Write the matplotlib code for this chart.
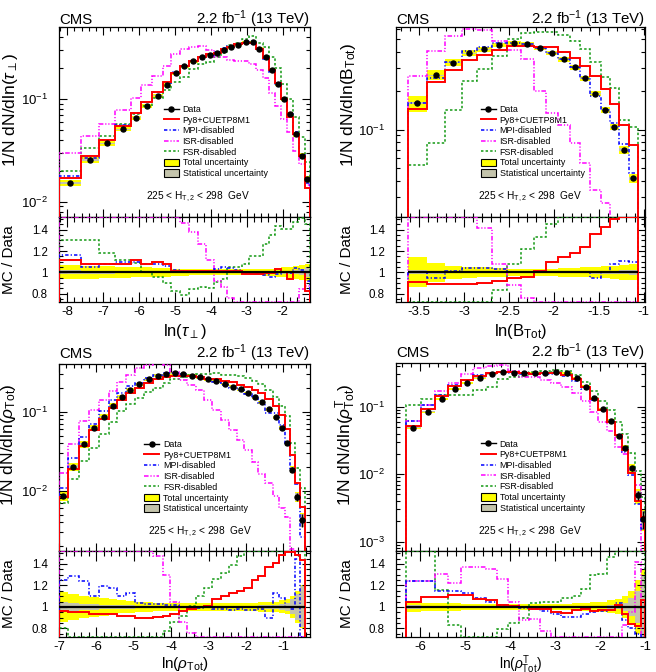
import numpy as np
import matplotlib
matplotlib.use('Agg')
import matplotlib.pyplot as plt
from matplotlib.ticker import MultipleLocator, LogLocator, NullFormatter, FuncFormatter
from matplotlib.lines import Line2D
from matplotlib.patches import Patch

plt.rcParams['font.family'] = ['Liberation Sans', 'DejaVu Sans']
plt.rcParams['mathtext.fontset'] = 'custom'
plt.rcParams['mathtext.rm'] = 'Liberation Sans'
plt.rcParams['mathtext.it'] = 'Liberation Sans:italic'
plt.rcParams['mathtext.bf'] = 'Liberation Sans:bold'
plt.rcParams['axes.unicode_minus'] = False

# ---------------- data: ln(tau_perp) ----------------
tau_edges = [-8.23, -7.61, -7.12, -6.68, -6.23, -5.94, -5.63, -5.33, -5.10, -4.87, -4.61,
             -4.37, -4.15, -3.92, -3.73, -3.54, -3.35, -3.14, -2.93, -2.74, -2.56, -2.37,
             -2.22, -2.05, -1.87, -1.70, -1.54, -1.38, -1.24]
tau_data = [0.0153, 0.0255, 0.037, 0.0507, 0.0657, 0.0855, 0.107, 0.136, 0.178, 0.207, 0.231,
            0.255, 0.268, 0.279, 0.300, 0.316, 0.336, 0.354, 0.354, 0.307, 0.253, 0.191, 0.139,
            0.099, 0.0714, 0.0453, 0.028, 0.0166]
tau_tot = [0.065, 0.06, 0.055, 0.05, 0.045, 0.045, 0.04, 0.04, 0.035, 0.035, 0.03, 0.03, 0.03,
           0.03, 0.03, 0.03, 0.03, 0.03, 0.03, 0.03, 0.035, 0.035, 0.04, 0.045, 0.05, 0.06, 0.07, 0.08]
tau_stat = [0.02, 0.015, 0.012, 0.01, 0.01, 0.008, 0.008, 0.007, 0.007, 0.006, 0.006, 0.006, 0.006,
            0.006, 0.006, 0.006, 0.006, 0.006, 0.006, 0.007, 0.008, 0.009, 0.01, 0.012, 0.015, 0.02,
            0.03, 0.045]
tau_r_py8 = [1.12, 1.08, 1.08, 1.08, 1.12, 1.08, 1.10, 1.08, 1.01, 1.01, 1.01, 1.01, 1.01, 1.01,
             1.01, 1.01, 1.01, 0.985, 0.985, 0.985, 0.99, 0.99, 1.03, 1.0, 0.94, 1.0, 1.0, 0.82]
tau_r_mpi = [1.16, 1.05, 1.08, 1.10, 1.10, 1.08, 1.08, 1.06, 1.02, 1.01, 1.0, 1.0, 1.0, 1.03, 1.05,
             1.04, 1.02, 0.99, 1.0, 0.99, 0.97, 0.96, 0.98, 1.0, 0.99, 1.04, 1.02, 0.92]
tau_r_isr = [1.93, 1.69, 1.55, 1.55, 1.55, 1.58, 1.55, 1.55, 1.52, 1.46, 1.38, 1.27, 1.12, 0.92,
             0.86, 0.76, 0.70, 0.66, 0.62, 0.62, 0.63, 0.60, 0.62, 0.65, 0.66, 0.68, 0.84, 0.87]
tau_r_fsr = [1.30, 1.30, 1.18, 1.115, 1.09, 1.0, 0.96, 0.90, 0.82, 0.79, 0.84, 0.86, 0.85, 0.91,
             0.94, 1.05, 1.05, 1.08, 1.15, 1.15, 1.27, 1.35, 1.44, 1.41, 1.41, 1.47, 1.51, 1.45]

# ---------------- data: ln(B_Tot) ----------------
btot_edges = [-3.62, -3.415, -3.21, -3.025, -2.86, -2.69, -2.525, -2.37, -2.22, -2.09, -1.95,
              -1.82, -1.705, -1.595, -1.48, -1.38, -1.275, -1.165, -1.065]
btot_data = [0.160, 0.264, 0.330, 0.391, 0.420, 0.452, 0.468, 0.460, 0.432, 0.395, 0.351, 0.303,
             0.250, 0.190, 0.143, 0.105, 0.070, 0.042]
btot_tot = [0.14, 0.09, 0.06, 0.05, 0.045, 0.04, 0.035, 0.035, 0.035, 0.035, 0.04, 0.04, 0.045,
            0.05, 0.055, 0.06, 0.07, 0.075]
btot_stat = [0.02, 0.012, 0.01, 0.008, 0.007, 0.006, 0.006, 0.006, 0.006, 0.006, 0.007, 0.008,
             0.01, 0.012, 0.014, 0.016, 0.02, 0.025]
btot_r_py8 = [0.907, 0.885, 0.885, 0.89, 0.90, 0.92, 0.945, 0.96, 1.01, 1.10, 1.14, 1.18, 1.24,
              1.36, 1.43, 1.50, 1.55, 1.82]
btot_r_mpi = [1.0, 0.95, 1.01, 1.04, 1.04, 1.03, 1.0, 1.0, 1.0, 1.0, 1.0, 1.0, 1.0, 0.95, 1.0,
              1.08, 1.11, 1.10]
btot_r_isr = [1.63, 1.55, 1.60, 1.54, 1.42, 1.08, 0.88, 0.76, 0.46, 0.34, 0.31, 0.26, 0.22, 0.18,
              0.19, 0.14, 0.10, 0.08]
btot_r_fsr = [0.33, 0.30, 0.43, 0.61, 0.70, 0.83, 1.08, 1.22, 1.33, 1.45, 1.55, 1.60, 1.70, 1.75,
              1.80, 2.0, 1.7, 2.5]

# ---------------- data: ln(rho_Tot) ----------------
rho_edges = [-7.0, -6.76, -6.47, -6.205, -5.94, -5.67, -5.44, -5.215, -4.975, -4.725, -4.48,
             -4.23, -4.02, -3.785, -3.57, -3.34, -3.125, -2.895, -2.68, -2.445, -2.24, -2.045,
             -1.85, -1.67, -1.48, -1.285, -1.105, -0.955, -0.83, -0.695, -0.555, -0.42]
rho_data = [0.0087, 0.0201, 0.0386, 0.063, 0.0865, 0.119, 0.155, 0.188, 0.222, 0.257, 0.285,
            0.300, 0.305, 0.297, 0.285, 0.272, 0.257, 0.242, 0.224, 0.208, 0.192, 0.172, 0.152,
            0.132, 0.107, 0.085, 0.062, 0.040, 0.0185, 0.0084, 0.0043]
rho_tot = [0.14, 0.12, 0.10, 0.09, 0.08, 0.07, 0.06, 0.055, 0.05, 0.045, 0.04, 0.04, 0.04, 0.04,
           0.04, 0.04, 0.04, 0.04, 0.04, 0.04, 0.04, 0.04, 0.04, 0.045, 0.045, 0.05, 0.06, 0.07,
           0.10, 0.15, 0.20]
rho_stat = [0.05, 0.04, 0.03, 0.025, 0.02, 0.02, 0.015, 0.015, 0.012, 0.01, 0.01, 0.01, 0.01,
            0.01, 0.01, 0.01, 0.01, 0.01, 0.01, 0.01, 0.01, 0.012, 0.012, 0.014, 0.015, 0.02,
            0.025, 0.04, 0.07, 0.12, 0.19]
rho_r_py8 = [0.96, 0.95, 0.95, 0.93, 0.93, 0.93, 0.92, 0.92, 0.90, 0.90, 0.91, 0.92, 0.93, 0.96,
             0.98, 1.0, 1.01, 1.07, 1.10, 1.13, 1.15, 1.18, 1.25, 1.29, 1.37, 1.41, 1.48, 1.51,
             1.51, 1.48, 1.44]
rho_r_mpi = [1.25, 1.29, 1.24, 1.10, 1.19, 1.18, 1.10, 1.13, 1.04, 1.03, 1.03, 1.02, 1.02, 1.0,
             0.99, 0.99, 1.0, 0.98, 0.98, 0.97, 0.98, 0.97, 0.97, 0.98, 0.90, 1.13, 1.08, 1.0,
             0.98, 1.45, 0.60]
rho_r_isr = [1.90, 1.97, 2.0, 1.67, 1.62, 1.55, 1.55, 1.55, 1.62, 1.52, 1.47, 1.30, 1.05, 0.86,
             0.76, 0.70, 0.55, 0.43, 0.35, 0.28, 0.23, 0.19, 0.15, 0.125, 0.116, 0.10, 0.097,
             0.117, 0.10, 0.10, 0.10]
rho_r_fsr = [0.80, 0.70, 0.62, 0.55, 0.60, 0.62, 0.65, 0.66, 0.68, 0.70, 0.71, 0.78, 0.86, 0.92,
             1.01, 1.10, 1.18, 1.26, 1.32, 1.39, 1.47, 1.55, 1.60, 1.70, 1.75, 1.80, 1.90, 2.2,
             2.2, 2.3, 2.5]

# ---------------- data: ln(rho^T_Tot) ----------------
rhot_edges = [-6.317, -5.991, -5.672, -5.375, -5.101, -4.819, -4.544, -4.285, -4.040, -3.810,
              -3.573, -3.335, -3.098, -2.860, -2.631, -2.415, -2.215, -2.037, -1.852, -1.666,
              -1.510, -1.369, -1.221, -1.095, -1.0]
rhot_data = [0.0489, 0.0843, 0.130, 0.181, 0.222, 0.269, 0.301, 0.323, 0.320, 0.312, 0.312,
             0.320, 0.330, 0.312, 0.263, 0.198, 0.133, 0.0923, 0.062, 0.0367, 0.0242, 0.0122,
             0.0049, 0.0022]
rhot_tot = [0.045, 0.04, 0.035, 0.035, 0.03, 0.03, 0.03, 0.03, 0.03, 0.03, 0.03, 0.03, 0.03,
            0.03, 0.035, 0.04, 0.045, 0.05, 0.06, 0.07, 0.10, 0.15, 0.25, 0.35]
rhot_stat = [0.015, 0.01, 0.008, 0.007, 0.006, 0.006, 0.006, 0.006, 0.006, 0.006, 0.006, 0.006,
             0.006, 0.006, 0.007, 0.008, 0.01, 0.012, 0.015, 0.02, 0.04, 0.08, 0.15, 0.30]
rhot_r_py8 = [1.05, 1.09, 1.09, 1.11, 1.11, 1.07, 1.06, 1.02, 1.01, 1.0, 0.98, 0.98, 0.95, 0.94,
              0.97, 0.98, 0.96, 0.97, 0.97, 1.02, 0.93, 0.84, 0.82, 1.06]
rhot_r_mpi = [1.24, 1.24, 1.15, 1.15, 1.13, 1.08, 1.05, 1.02, 1.0, 0.99, 0.98, 0.96, 0.93, 0.91,
              0.91, 0.93, 0.95, 0.96, 0.97, 1.04, 0.88, 0.80, 0.75, 0.70]
rhot_r_isr = [1.24, 1.24, 1.31, 1.22, 1.37, 1.37, 1.35, 1.26, 1.05, 0.88, 0.89, 0.78, 0.68, 0.62,
              0.60, 0.62, 0.62, 0.65, 0.70, 0.70, 0.83, 0.95, 1.42, 0.30]
rhot_r_fsr = [2.2, 1.55, 1.16, 0.83, 0.68, 0.66, 0.66, 0.79, 0.85, 0.90, 1.04, 1.05, 1.05, 1.08,
              1.10, 1.17, 1.30, 1.31, 1.46, 1.60, 1.60, 1.70, 2.3, 2.1]

ht_text = '225 < H$_{\\mathrm{T,2}}$ < 298  GeV'
legend_labels = ['Data', 'Py8+CUETP8M1', 'MPI-disabled', 'ISR-disabled', 'FSR-disabled',
                 'Total uncertainty', 'Statistical uncertainty']

YEL = '#ffff00'
GRY = '#c4c4ac'
RED = '#ff0000'
BLU = '#0000ff'
MAG = '#ff00ff'
GRN = '#139913'
LS_MPI = (0, (2.2, 1.4, 0.8, 1.4))
LS_ISR = (0, (3.0, 1.2, 0.8, 1.2, 0.8, 1.2))
LS_FSR = (0, (1.6, 1.4))

W, H = 656, 672
fig = plt.figure(figsize=(W / 100, H / 100), dpi=100)


def pos(l, r, t, b):
    return [l / W, 1 - b / H, (r - l) / W, (b - t) / H]


def draw(mainpos, ratpos, edges, data, tot, stat, rp, rm, ri, rf, xlim, ylim, rlim,
         xmaj, xmin_, xlabel, ylabel, leg_xy, txt_xy, cms_y, ylab_x, ylab_y, rlab_x, xlab_y, xlab_fs):
    ax = fig.add_axes(mainpos)
    axr = fig.add_axes(ratpos)
    edges = np.asarray(edges)
    data = np.asarray(data)
    tot = np.asarray(tot)
    stat = np.asarray(stat)
    widths = np.diff(edges)
    centers = edges[:-1] + widths / 2

    ax.bar(centers, 2 * data * tot, bottom=data * (1 - tot), width=widths, color=YEL, lw=0, zorder=1)
    ax.bar(centers, 2 * data * stat, bottom=data * (1 - stat), width=widths, color=GRY, lw=0, zorder=1.5)
    axr.stairs(1 + tot, edges, baseline=1 - tot, fill=True, color=YEL, lw=0, zorder=1)
    axr.stairs(1 + stat, edges, baseline=1 - stat, fill=True, color=GRY, lw=0, zorder=1.5)

    specs = [(rf, GRN, LS_FSR, 1.1), (ri, MAG, LS_ISR, 1.1), (rm, BLU, LS_MPI, 1.1), (rp, RED, '-', 1.4)]
    for r, c, ls, lw in specs:
        r = np.asarray(r)
        ax.stairs(data * r, edges, baseline=1e-9, color=c, ls=ls, lw=lw, zorder=3)
        rc = np.clip(r, rlim[0], rlim[1])
        axr.stairs(rc, edges, baseline=rlim[0], color=c, ls=ls, lw=lw, zorder=3)

    ax.errorbar(centers, data, yerr=data * stat, fmt='o', ms=3.6, color='k', elinewidth=1.0,
                capsize=0, zorder=5)
    axr.hlines(1, edges[0], edges[-1], color='k', lw=1.6, zorder=4)

    ax.set_yscale('log')
    ax.set_xlim(*xlim)
    ax.set_ylim(*ylim)
    axr.set_xlim(*xlim)
    axr.set_ylim(*rlim)

    for a in (ax, axr):
        a.xaxis.set_major_locator(MultipleLocator(xmaj))
        a.xaxis.set_minor_locator(MultipleLocator(xmin_))
        for s in a.spines.values():
            s.set_linewidth(0.9)
    ax.yaxis.set_major_locator(LogLocator(base=10))
    ax.yaxis.set_minor_locator(LogLocator(base=10, subs=np.arange(2, 10)))
    ax.yaxis.set_minor_formatter(NullFormatter())
    axr.yaxis.set_major_locator(MultipleLocator(0.2))
    axr.yaxis.set_minor_locator(MultipleLocator(0.05))
    axr.yaxis.set_major_formatter(FuncFormatter(lambda v, p: '%g' % round(v, 3)))
    axr.xaxis.set_major_formatter(FuncFormatter(lambda v, p: '%g' % round(v, 3)))

    ax.tick_params(which='both', direction='in', top=True, right=True, width=0.8)
    ax.tick_params(which='major', length=6)
    ax.tick_params(which='minor', length=3)
    ax.tick_params(axis='x', labelbottom=False)
    ax.tick_params(axis='y', labelsize=9.5, pad=8)
    axr.tick_params(which='both', direction='in', top=True, right=True, width=0.8)
    axr.tick_params(axis='x', which='major', length=7.5, labelsize=9.5, pad=3)
    axr.tick_params(axis='x', which='minor', length=3.8)
    axr.tick_params(axis='y', which='major', length=6, labelsize=8.3, pad=8)
    axr.tick_params(axis='y', which='minor', length=3)

    ax.set_ylabel(ylabel, fontsize=12.5, ha='left')
    ax.yaxis.set_label_coords(ylab_x, ylab_y)
    axr.set_ylabel('MC / Data', fontsize=11)
    axr.yaxis.set_label_coords(rlab_x, 0.5)
    axr.set_xlabel(xlabel, fontsize=xlab_fs)
    axr.xaxis.set_label_coords(0.5, xlab_y)

    ax.text(0, cms_y, 'CMS', transform=ax.transAxes, ha='left', va='baseline', fontsize=10.8)
    ax.text(1, cms_y, '2.2 fb$^{-1}$ (13 TeV)', transform=ax.transAxes, ha='right', va='baseline',
            fontsize=10.8)
    ax.text(txt_xy[0], txt_xy[1], ht_text, transform=ax.transAxes, ha='center', va='center',
            fontsize=7.3)

    handles = [Line2D([], [], color='k', marker='o', ms=3.6, lw=1.0),
               Line2D([], [], color=RED, lw=1.4),
               Line2D([], [], color=BLU, lw=1.1, ls=LS_MPI),
               Line2D([], [], color=MAG, lw=1.1, ls=LS_ISR),
               Line2D([], [], color=GRN, lw=1.1, ls=LS_FSR),
               Patch(facecolor=YEL, edgecolor='k', lw=0.8),
               Patch(facecolor=GRY, edgecolor='k', lw=0.8)]
    ax.legend(handles, legend_labels, loc='upper left', bbox_to_anchor=leg_xy,
              bbox_transform=ax.transAxes, frameon=False, fontsize=6.4, handlelength=1.7,
              handleheight=0.9, handletextpad=0.4, labelspacing=0.19, borderpad=0,
              borderaxespad=0)
    return ax, axr


draw(pos(59, 310, 27, 217), pos(59, 310, 217, 302), tau_edges, tau_data, tau_tot, tau_stat,
     tau_r_py8, tau_r_mpi, tau_r_isr, tau_r_fsr, (-8.23, -1.24), (0.0071, 0.50), (0.72, 1.52),
     1, 0.2, 'ln($\\tau_{\\perp}$)', '1/N dN/dln($\\tau_{\\perp}$)', (0.418, 0.59),
     (0.554, 0.105), 1.016, -0.155, 0.263, -0.171, -0.235, 12)

draw(pos(396, 645, 27, 217), pos(396, 645, 217, 302), btot_edges, btot_data, btot_tot, btot_stat,
     btot_r_py8, btot_r_mpi, btot_r_isr, btot_r_fsr, (-3.756, -0.985), (0.021, 0.624), (0.72, 1.52),
     0.5, 0.1, 'ln(B$_{\\mathrm{Tot}}$)', '1/N dN/dln(B$_{\\mathrm{Tot}}$)', (0.341, 0.59),
     (0.538, 0.105), 1.016, -0.153, 0.263, -0.169, -0.235, 12)

draw(pos(59, 310, 364, 551), pos(59, 310, 551, 637), rho_edges, rho_data, rho_tot, rho_stat,
     rho_r_py8, rho_r_mpi, rho_r_isr, rho_r_fsr, (-7.0, -0.286), (0.001726, 0.402), (0.72, 1.52),
     1, 0.2, 'ln($\\rho_{\\mathrm{Tot}}$)', '1/N dN/dln($\\rho_{\\mathrm{Tot}}$)', (0.339, 0.593),
     (0.562, 0.10), 1.032, -0.163, 0.24, -0.171, -0.205, 11)

draw(pos(396, 645, 363, 551), pos(396, 645, 551, 637), rhot_edges, rhot_data, rhot_tot, rhot_stat,
     rhot_r_py8, rhot_r_mpi, rhot_r_isr, rhot_r_fsr, (-6.54, -1.0), (0.000728, 0.443), (0.72, 1.52),
     1, 0.2, 'ln($\\rho^{\\mathrm{T}}_{\\mathrm{Tot}}$)', '1/N dN/dln($\\rho^{\\mathrm{T}}_{\\mathrm{Tot}}$)',
     (0.341, 0.593), (0.538, 0.10), 1.032, -0.153, 0.237, -0.169, -0.195, 9.8)

fig.savefig('out.png', dpi=100)
